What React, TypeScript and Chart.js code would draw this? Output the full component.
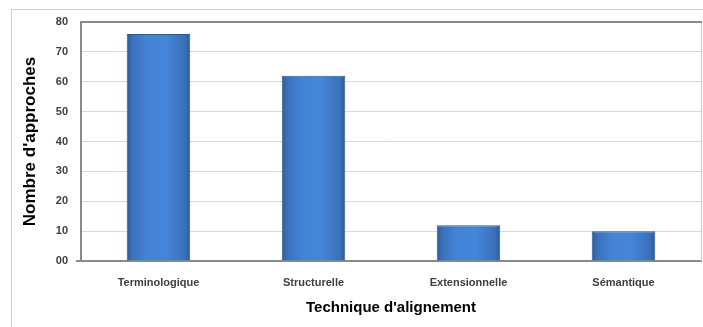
import React, { useEffect, useRef } from 'react';
import { Chart, registerables } from 'chart.js';

Chart.register(...registerables);

const categories = ['Terminologique', 'Structurelle', 'Extensionnelle', 'Sémantique'];
const approaches = [76, 62, 12, 10];
const yMin = 0;
const yMax = 80;
const yStep = 10;
const xTitle = "Technique d'alignement";
const yTitle = "Nombre d'approches";

const FONT = "'Liberation Sans', Arial, sans-serif";

const framePlugin = {
  id: 'frame',
  beforeDatasetsDraw(chart: any) {
    const { ctx, chartArea } = chart;
    ctx.save();
    ctx.strokeStyle = '#c8c8c8';
    ctx.lineWidth = 1;
    ctx.beginPath();
    ctx.moveTo(chartArea.right + 0.5, chartArea.top);
    ctx.lineTo(chartArea.right + 0.5, chartArea.bottom);
    ctx.stroke();
    ctx.strokeStyle = '#8a8a8a';
    ctx.lineWidth = 2;
    ctx.beginPath();
    ctx.moveTo(chartArea.left, chartArea.top);
    ctx.lineTo(chartArea.right + 1, chartArea.top);
    ctx.stroke();
    ctx.restore();
  },
  afterDraw(chart: any) {
    const { ctx, chartArea } = chart;
    ctx.save();
    ctx.strokeStyle = '#8a8a8a';
    ctx.lineWidth = 2;
    ctx.beginPath();
    ctx.moveTo(chartArea.left - 5, chartArea.bottom);
    ctx.lineTo(chartArea.left, chartArea.bottom);
    ctx.stroke();
    ctx.restore();
  },
};

function barFill(context: any) {
  const chart = context.chart;
  const { ctx, chartArea, scales } = chart;
  if (!chartArea || !scales.x) return '#3f7fd0';
  const cx = scales.x.getPixelForValue(context.dataIndex);
  const w = (chartArea.right - chartArea.left) / categories.length * 0.41;
  const g = ctx.createLinearGradient(cx - w / 2, 0, cx + w / 2, 0);
  g.addColorStop(0, '#2b5894');
  g.addColorStop(0.08, '#3a70ba');
  g.addColorStop(0.3, '#4382d4');
  g.addColorStop(0.6, '#4686da');
  g.addColorStop(0.92, '#3a70ba');
  g.addColorStop(1, '#2b5894');
  return g;
}

export default function App() {
  const ref = useRef<HTMLCanvasElement>(null);
  useEffect(() => {
    if (!ref.current) return;
    const chart = new Chart(ref.current, {
      type: 'bar',
      data: {
        labels: categories,
        datasets: [
          {
            data: approaches,
            backgroundColor: barFill as any,
            borderColor: '#2d5a90',
            borderWidth: 1,
            categoryPercentage: 1,
            barPercentage: 0.41,
          },
        ],
      },
      options: {
        animation: false,
        responsive: false,
        maintainAspectRatio: false,
        layout: { padding: { top: 22, right: 2, left: 0, bottom: 0 } },
        plugins: { legend: { display: false }, tooltip: { enabled: false } },
        scales: {
          x: {
            grid: { display: false, drawTicks: false },
            border: { display: true, color: '#8a8a8a', width: 2 },
            ticks: {
              padding: 15,
              color: '#404040',
              font: { family: FONT, size: 11, weight: 'bold' },
            },
            title: {
              display: true,
              text: xTitle,
              color: '#000000',
              font: { family: FONT, size: 15, weight: 'bold', lineHeight: 1.2 },
              padding: { top: 0, bottom: 10 },
            },
            afterFit: (s: any) => {
              s.height = 66;
            },
          },
          y: {
            min: yMin,
            max: yMax,
            grid: { color: '#d9d9d9', drawTicks: false },
            border: { display: true, color: '#8a8a8a', width: 2 },
            ticks: {
              stepSize: yStep,
              padding: 13,
              color: '#404040',
              font: { family: FONT, size: 11, weight: 'bold' },
              callback: (v: any) => String(v).padStart(2, '0'),
            },
            title: {
              display: true,
              text: yTitle,
              color: '#000000',
              font: { family: FONT, size: 17, weight: 'bold', lineHeight: 1.2 },
              padding: { top: 20, bottom: 0 },
            },
            afterFit: (s: any) => {
              s.width = 81;
            },
          },
        },
      },
      plugins: [framePlugin],
    });
    return () => chart.destroy();
  }, []);

  return (
    <div style={{ position: 'absolute', left: 0, top: 0, width: 703, height: 327, overflow: 'hidden', background: '#fff' }}>
      <div
        style={{
          position: 'absolute',
          left: 11,
          top: 9,
          width: 700,
          height: 400,
          borderLeft: '1px solid #d0d0d0',
          borderTop: '1px solid #d0d0d0',
        }}
      />
      <canvas ref={ref} width={703} height={327} style={{ position: 'absolute', left: 0, top: 0 }} />
    </div>
  );
}
